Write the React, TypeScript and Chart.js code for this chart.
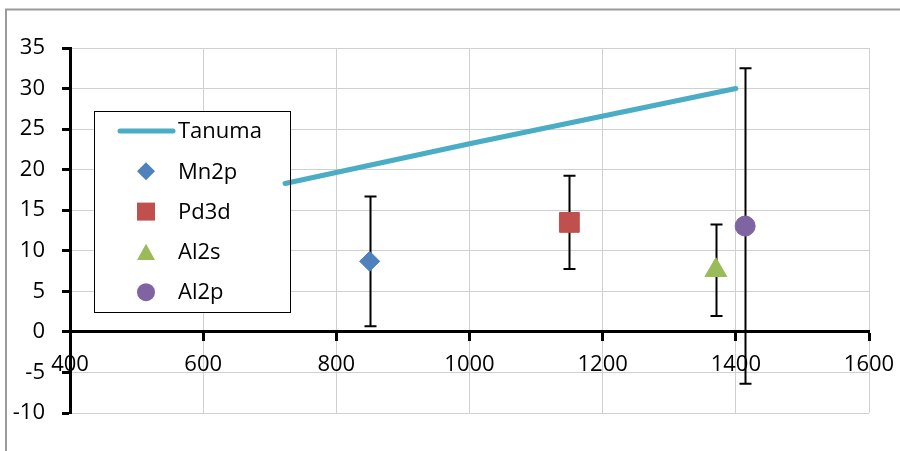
import React, { useEffect, useRef } from 'react';
import { Chart, registerables } from 'chart.js';

Chart.register(...registerables);

// ---- data ----
const tanumaEnergy = [723, 1000, 1400];
const tanumaValue = [18.3, 23.2, 30.0];

const pointNames = ['Mn2p', 'Pd3d', 'Al2s', 'Al2p'];
const pointEnergy = [850, 1150, 1370, 1414];
const pointValue = [8.7, 13.5, 7.6, 13.05];
const pointError = [8.0, 5.75, 5.65, 19.45];

const xTickValues = [400, 600, 800, 1000, 1200, 1400, 1600];
const yTickValues = [-10, -5, 0, 5, 10, 15, 20, 25, 30, 35];

// ---- styles ----
const lineColor = '#4BACC6';
const pointColors = ['#4F81BD', '#C0504D', '#9BBB59', '#8064A2'];
const pointStyles = ['rectRot', 'rect', 'triangle', 'circle'];
const pointRadii = [10, 14, 12.5, 10];
const FONT = '"Open Sans", "DejaVu Sans", sans-serif';
const FONT_SIZE = 22;
const GRID = '#d0d0d0';

function drawMarker(ctx: CanvasRenderingContext2D, style: string, x: number, y: number, s: number, color: string) {
  ctx.save();
  ctx.fillStyle = color;
  ctx.beginPath();
  if (style === 'rectRot') {
    ctx.moveTo(x, y - s);
    ctx.lineTo(x + s, y);
    ctx.lineTo(x, y + s);
    ctx.lineTo(x - s, y);
    ctx.closePath();
  } else if (style === 'rect') {
    ctx.rect(x - s, y - s, 2 * s, 2 * s);
  } else if (style === 'triangle') {
    ctx.moveTo(x, y - s * 0.9);
    ctx.lineTo(x + s, y + s * 0.9);
    ctx.lineTo(x - s, y + s * 0.9);
    ctx.closePath();
  } else {
    ctx.arc(x, y, s, 0, Math.PI * 2);
  }
  ctx.fill();
  ctx.restore();
}

const LEG = { left: 94.5, top: 111.5, right: 290.5, bottom: 312.5, firstY: 131, step: 40.3, lineX1: 120, lineX2: 173, markerX: 146, textX: 178 };

const frameAndLegendPlugin = {
  id: 'frameAndLegend',
  beforeDraw(chart: any) {
    const ctx = chart.ctx as CanvasRenderingContext2D;
    ctx.save();
    ctx.fillStyle = '#ffffff';
    ctx.fillRect(0, 0, chart.width, chart.height);
    ctx.strokeStyle = '#9a9a9a';
    ctx.lineWidth = 2;
    ctx.beginPath();
    ctx.moveTo(6, chart.height + 2);
    ctx.lineTo(6, 9.5);
    ctx.lineTo(chart.width + 2, 9.5);
    ctx.stroke();
    ctx.restore();
  },
  beforeDatasetsDraw(chart: any) {
    const ctx = chart.ctx as CanvasRenderingContext2D;
    // legend background
    ctx.save();
    ctx.fillStyle = '#ffffff';
    ctx.fillRect(LEG.left, LEG.top, LEG.right - LEG.left, LEG.bottom - LEG.top);
    ctx.restore();
    // error bars
    const xs = chart.scales.x;
    const ys = chart.scales.y;
    ctx.save();
    ctx.strokeStyle = '#000000';
    ctx.lineWidth = 2;
    const cap = 6;
    pointEnergy.forEach((e, i) => {
      const px = Math.round(xs.getPixelForValue(e)) + 0.5;
      const yTop = ys.getPixelForValue(pointValue[i] + pointError[i]);
      const yBot = ys.getPixelForValue(pointValue[i] - pointError[i]);
      ctx.beginPath();
      ctx.moveTo(px, yTop);
      ctx.lineTo(px, yBot);
      ctx.moveTo(px - cap, yTop);
      ctx.lineTo(px + cap, yTop);
      ctx.moveTo(px - cap, yBot);
      ctx.lineTo(px + cap, yBot);
      ctx.stroke();
    });
    ctx.restore();
  },
  afterDatasetsDraw(chart: any) {
    const ctx = chart.ctx as CanvasRenderingContext2D;
    ctx.save();
    ctx.strokeStyle = '#000000';
    ctx.lineWidth = 1;
    ctx.strokeRect(LEG.left, LEG.top, LEG.right - LEG.left, LEG.bottom - LEG.top);
    ctx.font = `${FONT_SIZE}px ${FONT}`;
    ctx.fillStyle = '#000000';
    ctx.textBaseline = 'middle';
    ctx.textAlign = 'left';
    chart.data.datasets.forEach((ds: any, i: number) => {
      const y = LEG.firstY + i * LEG.step;
      if (i === 0) {
        ctx.save();
        ctx.strokeStyle = lineColor;
        ctx.lineWidth = 5;
        ctx.lineCap = 'round';
        ctx.beginPath();
        ctx.moveTo(LEG.lineX1, y);
        ctx.lineTo(LEG.lineX2, y);
        ctx.stroke();
        ctx.restore();
      } else {
        drawMarker(ctx, pointStyles[i - 1], LEG.markerX, y, 9, pointColors[i - 1]);
      }
      ctx.fillText(ds.label, LEG.textX, y + 1);
    });
    ctx.restore();
  },
};

export default function App() {
  const ref = useRef<HTMLCanvasElement | null>(null);

  useEffect(() => {
    if (!ref.current) return;
    const datasets: any[] = [
      {
        label: 'Tanuma',
        data: tanumaEnergy.map((x, i) => ({ x, y: tanumaValue[i] })),
        showLine: true,
        borderColor: lineColor,
        backgroundColor: lineColor,
        borderWidth: 5,
        borderCapStyle: 'round',
        pointRadius: 0,
        pointHoverRadius: 0,
        tension: 0,
      },
      ...pointNames.map((name, i) => ({
        label: name,
        data: [{ x: pointEnergy[i], y: pointValue[i] }],
        pointStyle: pointStyles[i],
        pointRadius: pointRadii[i],
        backgroundColor: pointColors[i],
        borderColor: pointColors[i],
        borderWidth: 1,
        showLine: false,
      })),
    ];

    const chart = new Chart(ref.current, {
      type: 'scatter',
      data: { datasets },
      plugins: [frameAndLegendPlugin],
      options: {
        animation: false,
        responsive: false,
        maintainAspectRatio: false,
        layout: { padding: { left: 0, top: 48, right: 31, bottom: 38 } },
        plugins: {
          legend: { display: false },
          tooltip: { enabled: false },
        },
        scales: {
          x: {
            type: 'linear',
            position: { y: 0 } as any,
            min: 400,
            max: 1600,
            afterBuildTicks: (scale: any) => {
              scale.ticks = xTickValues.map((v) => ({ value: v }));
            },
            afterFit: (scale: any) => {
              scale.paddingLeft = 0;
              scale.paddingRight = 0;
            },
            ticks: {
              color: '#000000',
              font: { family: FONT, size: FONT_SIZE },
              padding: 12,
              maxRotation: 0,
              autoSkip: false,
              callback: (v: any) => String(v),
            },
            grid: {
              color: GRID,
              lineWidth: 1,
              tickLength: 8,
              tickColor: '#000000',
              tickWidth: 3,
            },
            border: { color: '#000000', width: 3 },
          },
          y: {
            type: 'linear',
            position: 'left',
            min: -10,
            max: 35,
            afterBuildTicks: (scale: any) => {
              scale.ticks = yTickValues.map((v) => ({ value: v }));
            },
            afterFit: (scale: any) => {
              scale.width = 70;
              scale.paddingTop = 0;
              scale.paddingBottom = 0;
            },
            ticks: {
              color: '#000000',
              font: { family: FONT, size: FONT_SIZE },
              padding: 17,
              autoSkip: false,
              callback: (v: any) => String(v),
            },
            grid: {
              color: GRID,
              lineWidth: 1,
              tickLength: 8,
              tickColor: '#000000',
              tickWidth: 3,
            },
            border: { color: '#000000', width: 3 },
          },
        },
      },
    });
    return () => chart.destroy();
  }, []);

  return (
    <div style={{ position: 'fixed', left: 0, top: 0, width: 900, height: 451, background: '#fff' }}>
      <canvas ref={ref} width={900} height={451} style={{ display: 'block' }} />
    </div>
  );
}
